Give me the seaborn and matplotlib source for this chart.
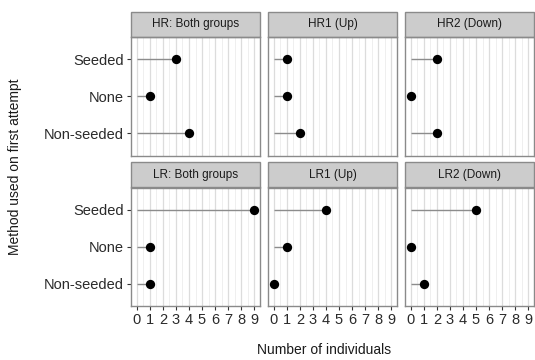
import pandas as pd
import numpy as np
import matplotlib
matplotlib.use('Agg')
import matplotlib.pyplot as plt
import seaborn as sns
from matplotlib.patches import Rectangle
from matplotlib.ticker import MultipleLocator

# data
panels = ['HR: Both groups', 'HR1 (Up)', 'HR2 (Down)',
          'LR: Both groups', 'LR1 (Up)', 'LR2 (Down)']
methods = ['Seeded', 'None', 'Non-seeded']
seeded = [3, 1, 2, 9, 4, 5]
none = [1, 1, 0, 1, 1, 0]
non_seeded = [4, 2, 2, 1, 0, 1]
x_ticks = list(range(10))

rows = []
for i, p in enumerate(panels):
    for m, vals in zip(methods, [seeded, none, non_seeded]):
        rows.append({'panel': p, 'method': m, 'count': vals[i]})
df = pd.DataFrame(rows)
df['pos'] = pd.Categorical(df['method'], categories=methods).codes

sns.set_style('white')
plt.rcParams['font.family'] = ['Liberation Sans', 'DejaVu Sans']


def lollipop(data, **kws):
    ax = plt.gca()
    ax.hlines(data['pos'], 0, data['count'], color='#8c8c8c', lw=1.0, zorder=2)
    sns.scatterplot(data=data, x='count', y='pos', color='black', s=45,
                    edgecolor='black', linewidth=0, ax=ax, zorder=3)


g = sns.FacetGrid(df, col='panel', col_wrap=3, col_order=panels,
                  sharex=True, sharey=True, height=1.2, aspect=1.1)
g.map_dataframe(lollipop)
g.figure.set_size_inches(5.35, 3.6)
g.figure.subplots_adjust(left=131/535, right=534/535, bottom=1-306/360,
                         top=1-37/360, wspace=8/129, hspace=32/118.5)

for ax, title in zip(g.axes.flat, panels):
    ax.set_title('')
    ax.set_xlim(-0.45, 9.45)
    ax.set_ylim(2.6, -0.6)
    ax.set_xticks(x_ticks)
    ax.set_xticklabels([str(t) for t in x_ticks], fontsize=10.5, color='#2a2a2a')
    ax.xaxis.set_minor_locator(MultipleLocator(0.5))
    ax.set_yticks(range(len(methods)))
    ax.set_yticklabels(methods, fontsize=10.5, color='#2a2a2a')
    ax.grid(False)
    ax.grid(True, axis='x', which='major', color='#dcdcdc', lw=0.9, zorder=0)
    ax.grid(True, axis='x', which='minor', color='#ececec', lw=0.6, zorder=0)
    ax.set_axisbelow(True)
    ax.tick_params(axis='both', which='major', length=3, width=0.8,
                   color='#333333', pad=2, left=True, bottom=True)
    ax.tick_params(axis='x', which='minor', length=0)
    for sp in ax.spines.values():
        sp.set_visible(True)
        sp.set_color('#8a8a8a')
        sp.set_linewidth(1.0)
    ax.set_xlabel('')
    ax.set_ylabel('')
    # strip above panel
    h = 25 / 118.5
    ax.add_patch(Rectangle((0, 1), 1, h, transform=ax.transAxes,
                           facecolor='#cccccc', edgecolor='#8a8a8a', lw=1.0,
                           clip_on=False))
    ax.text(0.5, 1 + h / 2, title, transform=ax.transAxes, ha='center',
            va='center', fontsize=8.5, color='#1a1a1a')

for ax in g.axes.flat:
    if not ax.get_subplotspec().is_last_row():
        ax.tick_params(labelbottom=False, bottom=False)
    if not ax.get_subplotspec().is_first_col():
        ax.tick_params(labelleft=False, left=False)

g.figure.text(324/535, 1 - 350/360, 'Number of individuals', ha='center',
              va='center', fontsize=10, color='#1a1a1a')
g.figure.text(15/535, 1 - 167/360, 'Method used on first attempt', ha='center',
              va='center', rotation=90, fontsize=10, color='#1a1a1a')

g.figure.savefig('out.png', dpi=100)
